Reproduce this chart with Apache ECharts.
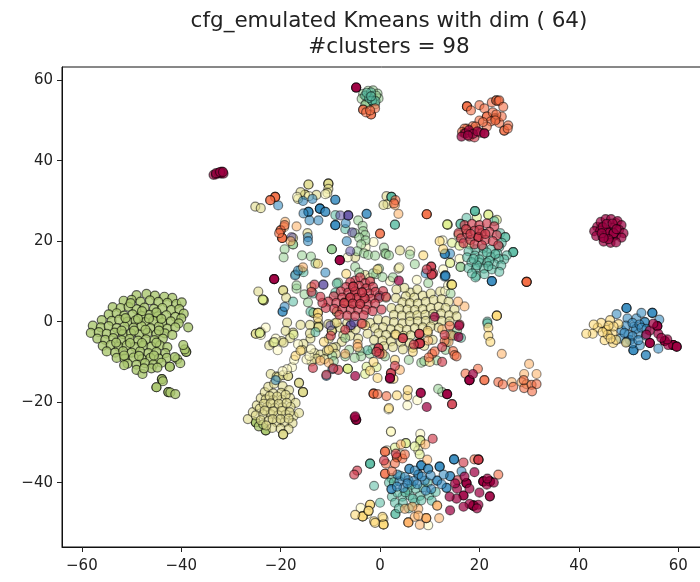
<!DOCTYPE html>
<html><head><meta charset="utf-8">
<style>html,body{margin:0;padding:0;background:#fff;overflow:hidden}#c{width:700px;height:582px;filter:blur(0.55px)}</style>
<script src="https://cdn.jsdelivr.net/npm/echarts@6/dist/echarts.min.js"></script></head>
<body><div id="c"></div>
<script>
const titleText = "cfg_emulated Kmeans with dim ( 64)\n#clusters = 98";
const xTicks = [-60,-40,-20,0,20,40,60];
const yTicks = [-40,-20,0,20,40,60];

const olive = [
[-49,6.6],[-47,6.9],[-45.3,6.5],[-43.4,6.2],[-41.8,5.9],[-51.6,5.2],[-50,5.4],[-48.2,5],[-46.3,5.3],[-44.6,4.9],[-42.8,4.7],[-41,4.4],[-39.9,4.8],
[-53.8,3.6],[-52.2,3.4],[-50.6,3.7],[-49,3.1],[-47.4,3.5],[-45.5,3.2],[-43.8,3.4],[-42,2.9],[-40.4,3.1],[-39.5,2],
[-54.6,1.8],[-53,2.1],[-51.5,1.5],[-49.8,1.8],[-48,1.4],[-46.4,1.7],[-44.7,1.3],[-43,1.6],[-41.2,1.2],[-40,.8],
[-56,.4],[-54,.2],[-52.5,.5],[-50.8,0],[-49.2,.3],[-47.3,-.1],[-45.6,.2],[-43.8,-.2],[-42.1,.1],[-40.5,-.4],
[-57.8,-1],[-56.2,-1.4],[-54.6,-1.1],[-53,-1.6],[-51.4,-1.2],[-49.6,-1.5],[-48,-1.1],[-46.2,-1.6],[-44.5,-1.2],[-42.8,-1.7],[-41.2,-1.4],
[-58.2,-2.8],[-56.6,-2.6],[-55,-3],[-53.4,-2.7],[-51.7,-3.1],[-50.1,-2.9],[-48.4,-3.2],[-46.8,-2.8],[-45,-3.1],[-43.3,-2.9],[-41.8,-3.3],
[-56.9,-4.2],[-55.3,-4.5],[-53.7,-4.1],[-52,-4.6],[-50.4,-4.3],[-48.7,-4.7],[-47.1,-4.4],[-45.4,-4.6],[-43.7,-4.2],
[-55.8,-6],[-54.2,-5.8],[-52.6,-6.2],[-51,-5.9],[-49.3,-6.3],[-47.6,-5.9],[-46,-6.2],[-44.3,-5.9],[-42.8,-6.3],
[-55,-7.4],[-53.3,-7.7],[-51.7,-7.3],[-50,-7.7],[-48.3,-7.4],[-46.6,-7.8],[-45,-7.5],[-43.2,-7.8],
[-53,-9],[-51.4,-9.2],[-49.6,-8.9],[-47.9,-9.3],[-46.2,-9],[-44.5,-9.2],[-42.9,-9],
[-50.8,-10.4],[-49,-10.7],[-47.3,-10.3],[-45.6,-10.6],[-44,-10.2],[-51.5,-10.8],
[-49,-12],[-46,-11.6],[-44.8,-11.4],[-47.8,-13],
[-38.6,-1.4],[-39,-7.5],[-39,-7.5],[-39.3,-6.9],[-40.8,-9.3],[-42.3,-11.2],[-42.3,-11.2],[-40.2,-10.3],[-41.3,-8.8],[-43.9,-14.3],[-43.9,-14.3],[-43.7,-14.8],[-45,-16.3],[-45,-16.3],[-42.6,-17.5],[-42.6,-17.5],[-42.2,-17.6],[-41.2,-18],[-39.6,-5.8],
[-25,-25],[-25,-25],[-23,-27],[-23,-27],[-24.4,-26],[-23.5,-25.5],
[-50.2,4.6],[-47.9,2.6],[-45,2.3],[-51.2,.9],[-48.7,.7],[-46.5,.8],[-44,.7],[-52,-2.2],[-49.5,-2.2],[-47.2,-2],[-44.5,-2.2],[-53.1,-5.2],[-50.3,-5.3],[-47.9,-5.3],[-45,-5.2],[-51.5,-8.4],[-48.5,-8.5],[-45.5,-8.4],[-47.5,-11.6]
];
const khaki = [
[-26.6,-24.2],[-25.6,-22.5],[-24.8,-20.8],[-24,-19],[-23.2,-17.5],[-22.5,-16.2],[-21.3,-15.4],[-19.6,-16],[-18.3,-17],[-19.9,-17.7],[-21.5,-17.8],[-23,-19.3],[-21.5,-19.5],[-19.8,-19.4],[-18.1,-19],[-17,-20.2],
[-24.2,-21.6],[-22.7,-21.2],[-21.2,-21.4],[-19.6,-21.3],[-18,-21.2],[-25,-23.3],[-23.5,-23],[-22,-23],[-20.5,-23.3],[-19,-23.1],[-17.4,-23.5],[-24,-24.5],[-22.4,-24.6],[-20.8,-25],[-19.2,-25],[-17.6,-25.2],[-21.7,-26.4],[-20,-26.6],[-22.9,-25.8],[-18.4,-26.7],
[-22.2,-18.5],[-20.7,-18.6],[-19,-18.2],[-23.4,-20.4],[-22,-20.3],[-20.4,-20.4],[-18.8,-20.2],[-23.2,-22.1],[-21.5,-22.3],[-19.8,-22.2],[-18.2,-22.5],[-21.6,-24.2],[-20,-24.2],[-18.4,-24.1],
[-22,-13],[-20.8,-13.6],[-20.5,-13.8],[-19.5,-13.3],[-18.5,-13.5],[-18.5,-13.5],[-16.3,-15.2],[-16.3,-15.2],[-15.5,-17.5],[-15.5,-17.5],[-15.5,-17.5],[-16.3,-22.7],[-19.5,-28],[-19.5,-28],[-19.5,-28],
[-19.5,7.8],[-19.5,7.8],[-13.4,2.2],[-13.4,2.2],[-12.4,-.3],[-18.9,6],[-10.4,-.6],[-8.7,2.5],[-8.7,2.5],[-12.4,-1.2],[-12.4,-1.2],[-12.4,-1.4],[-9.7,-2.3],[-9.7,-2.3],[-9.7,-2.2],[-8,-1.5],[-7.4,-3.4],[-7.7,-5],[-6,-3.5],[-5.9,-1.4],[-6.6,-.3],[-4.9,-1.9],[-4.4,-4.2],[-8.9,-6.3],[-10.3,-4.2],
[-17.5,-2.7],[-18.7,-.2],[-19,-2.3],[-16,-.8],[-19.8,-4.8],[-18.1,-4.1],[-14.1,-.8],[-14,-4.2],[-14.1,-2.9],[-15.4,-5.5],[-15.7,-7],[-13.2,-7.8],[-12,-8.2],[-10.7,-7.3],[-9.5,-6.5],[-12.8,-9.2],[-11.2,-9.3],[-8.9,-8],[-13.8,-9.9],
[-24.5,7.5],[-23.4,5.3],[-23.4,5.3],[-25,-3],[-25,-3],[-24,-2.5],[-22.3,-5.9],[-21.5,-5.2],[-19.4,-5.2],[-25.1,28.6],[-24,28.2],
[-14.4,34.1],[-14.4,34.1],[-10.4,34.3],[-10.4,34.3],[-10.4,34.3],[-10.4,33],[-10.6,32],[-15.1,31.6],[-15.1,31.6],[-16,32.2],[-16.5,30.5],[-12.8,31.5],
[1.3,31.2],[1.5,29.2],[0.7,29],[-17.5,20.8],[-14.6,22],[-5,16],[4,17.7],[1.2,6],[3.7,13.2],[-3,11.6],
[6.1,7.2],[7.5,8],[4.9,8.4],[3.3,8],[5.2,6.3],[6.9,6],[8.6,6.5],[10.2,7],[12.1,7.5],[3.2,5.9],[4.5,4.8],[6,4.6],[7.6,4.5],[9.2,4.9],[10.8,5.4],[12.4,5.6],[13.8,5],[2.3,3.4],[3.9,3.2],[5.5,3],[7,2.9],[8.6,3.1],[10.2,3.4],[11.8,3.7],[13.2,3.4],[15,3],[2.8,1.7],[4.4,1.5],[6,1.4],[7.5,1.6],[9.1,1.7],[10.7,1.9],[12.3,2],[13.9,1.6],[15.4,1.3],
[-2,-.3],[-.4,.6],[1.2,.2],[2.8,-.1],[4.5,-.4],[6,0],[7.6,.1],[9.2,.2],[10.8,.4],[12.4,.2],[14,.1],[-1,-1.6],[.6,-1.4],[2.2,-1.9],[3.8,-1.7],[5.4,-2],[7,-1.6],[8.6,-1.4],[10.2,-1.2],[11.8,-1.5],[-.3,-2.9],[1.2,-3.3],[3,-3.2],[4.7,-3.5],[6.2,-3.4],[8,-3.1],[9.6,-2.8],[-2.5,-3],[-1.2,-4.5],[.5,-4.7],[2.2,-4.9],[4.2,-5.1],[6,-5.3],[8,-4.8],[.8,-6.1],[2.6,-6.3],[4.6,-6.9],[6.6,-6.5],[8.9,-6],[10.6,-4.5]
];
const pale = [
[-17.7,-11.3],[-18.7,-11.8],[-19.6,-12.3],[-14.8,-9.4],[-14.2,-8.5],[-13.9,-6.8],[-16.5,-5.6],[-20.6,-7.1],[-23,-1.5],[-24,-3.3],[-21,-4.2],[-17.3,-9.5],
[-14.3,31.2],[-11,31.7],[-16.7,31],[-2.9,18.5],[-1.3,19.8],[-6.5,16],[6.1,17.6],[12.6,20.2],[16,15.6],[12.7,13],[3.9,13.5],[2,10.1],[-2,10.9],[13.1,7.6],[13.7,9],[14.1,14.6],[7.4,10.4],
[1.7,-21.8],[5.5,-20.8],[7.5,-19.5],[2.2,-27.3],[2.2,-27.3],[8.1,-27.9],[8.1,-30.5],[4.2,-33],[7.7,-32],[1.4,-32],[.7,-49],[-2.6,-47.8],[-3.9,-46.3],[9.7,-50.6]
];
const lime = [
[14.4,9.2],[14.4,9.2],[14.4,9.2],[13.6,24.1],[13.6,24.1],[14.1,14.6],[13.5,24.2],[-23.6,5.5],[-23.6,5.5],[-24.2,-2.8],[-24.2,-2.8],[-21.3,-5.1],[-17.4,-3.2],[-6.5,-11.7],[-6.5,-11.7],[-6.5,-11.7],[-2.7,-11.2],[-.7,-11.3],[-3,-13],
[21.8,26.6],[21.8,26.6],[23.5,25.3],[19.5,26],[17.5,22.8],[15.8,21.6],[14.5,19.6],[16,18.9],[18,19.2],[5.2,-30.2],[5.2,-30.2],[8.1,-29.5],[8.1,-29.5],[7,-31],[8,-33],[3,-31.3]
];
const green = [
[-3.4,56.6],[-2.4,57.4],[-1.4,57.5],[-.5,56.7],[-.3,55.5],[-1.2,55.2],[-2.6,55.8],[-3.7,55.4],[-2,54.4],[-1,54],[-2.8,54.2],[-3,53.8],[-1.8,56],[-1.8,56],[-.8,56.2],
[-9.7,18],[-9.7,18],[-9.7,18],[-17.5,19.2],[-17.5,19.2],[-19.2,18],[-19.4,16],[-15.7,16.5],[-13.9,16.2],[-13,14.5],[-16,12.8],[-17,11.7],[-16.8,8.2],[-16.8,9],[-8.4,9.7],
[-4.4,25.2],[-3.5,23.8],[-3.4,22.5],[-3,21.5],[-5.1,22],[-4.2,20.9],[-2.9,20.2],[-3.8,19.2],[-4.6,17.5],[-3.2,17],[-2.4,16.6],[-1,16.4],[.8,18.4],[1,17],[1.2,16.8],[1.8,16.5],[-.2,13.2],[-5,13.6],[-4.2,12.2],[-.8,11.8],[2.6,11],[-1.4,12],[.5,11.1],[6,16.7],[7,14.3],[9.7,9.6],
[-14.5,4.8],[-15.2,6.8],[-9.1,-.4],[-6.2,-7],[-4,-7.3],[-2,-8],[-1.5,-6.8],[1,-8.6],[-3.8,-8.6],[-9.6,-8.5],[5.8,-9.5],[11.4,-9.6],[13.2,-7],[14.2,-3.1],[15.5,-2.2],[14.2,7],
[8.3,-10.2],[8.9,-9.8],[-5.1,-9],[-7,-8.6],[12.5,-17.5],[11.7,-16.7],[16.2,13.6],[16.2,13.6],[-7,-4],[-9.3,-9.8]
];
const teal = [
[-1.6,55],[-1.6,55],[-3,56.2],[-2.2,55.6],[-.9,54.8],[-1.8,57],[-2.7,56.9],[-1.8,56],
[2.3,31],[2.3,31],[2.3,31],[3,24.1],[3,24.1],[-15.4,12.3],[-13.5,7],[-17.5,5],[-14,2.5],[-8.7,9.5],[-9,7.2],
[19.1,27.5],[19.1,27.5],[19.1,27.5],[17.4,25.8],[16.2,24.3],[16.2,24.3],[23,25],[24.2,22],[25.2,21],[25.2,21],[24.5,19.6],[26.8,17.3],[26.8,17.3],[26.8,17.3],[24,18.6],[25.5,16.5],[25,15.5],[23.6,17],[22.3,18],[20.8,18.2],[19.2,18],[17.8,17.5],[17.5,16],[19.1,16.4],[20.7,16.6],[22.3,16.1],[23.9,15.6],[18.4,14.8],[20,14.7],[21.5,14.7],[23,14.3],[24.4,14],[17.8,13.3],[19.3,13.2],[20.9,13.2],[22.5,13],[24,12.4],[19.4,11.4],[19.2,11],[18.5,12],[21,11.8],
[20,15.5],[22,15.2],[19.5,14],[21.8,13.8],[18.8,15.6],[23.2,16.8],[21.5,17.2],
[21.6,0],[21.6,-.4],[14.9,-3.5],[13.4,-5],[16.3,-4],[-13,-2.6],[-2.5,-7.1],
[-2,-35.3],[-2,-35.3],[-2,-35.3],[-1.2,-40.8],[0,-45],[3.1,-47.8],[3.1,-47.8],[2.4,-43.5],[3,-45],[4.5,-43.5],[6,-43.2],[8,-43.3],[9.9,-43.2],[2.3,-38.9],[1.8,-40],[4.6,-45],[7,-45],[5.6,-41.8],[7.2,-41.5],[8.7,-41.2],[-9,26.5],[-7,23],
[3.5,-42.5],[5.1,-42.4],[6.6,-44],[8.3,-44.4],[10.4,-44.5],[3.8,-46.4],[5.8,-46.4],[2.8,-39.9],[4.1,-38.3],[6.3,-40.5],[9.6,-40],[11.2,-42.3]
];
const blue = [
[-14.4,27.3],[-14.4,27.3],[-14.4,27.3],[-12.1,28.1],[-12.1,28.1],[-12.1,28.1],[-12.1,28.1],[-11,27.3],[-11,27.3],[-15.4,26.9],[-12.4,25.2],[-14.2,25.2],[-9,30.3],[-9,30.3],[-20.5,28.9],[-13.6,30.5],[-15.5,30],
[-9,24],[-9,24],[-9,24],[-6.7,20],[-6.9,24.5],[-2.7,26.8],[-2.7,26.8],[-14.5,21],[-14.5,20],[-11,12.2],[-17.1,11.5],[-16.5,12.7],[-.1,6.4],[-.1,6.4],[-19.6,2.5],[-19.6,2.5],[-19.2,3.7],[-21,-14.5],[-9.6,-11.8],
[13.1,16.9],[13.1,16.9],[14.1,16.9],[13.1,11.5],[13.1,11.5],[13,16.8],[22.5,10.1],[22.5,10.1],[22.5,10.1],[13,11.2],[9.2,12],[13.2,11.4],[-10.8,-13.5],
[49.6,3.4],[49.6,3.4],[49.6,3.4],[47.6,1.9],[49.8,.8],[51.6,.8],[52.6,2.2],[54.8,2.2],[54.8,2.2],[54.8,2.2],[53.3,-.1],[53.3,-.1],[48.6,-2.1],[51,-1.3],[52,-3],[48.3,-4.2],[51,-7.1],[51,-7.1],[51,-7.1],[53.5,-8.3],[53.5,-8.3],[56,-6.7],[52.3,-5.9],[50,-3.2],[50.3,-4.6],[51.5,-1.8],[53.5,-3.5],[56.2,.5],
[49.5,-1],[50.8,-.3],[52.2,-.7],[49.2,-2.8],[50.8,-3.6],[52.6,-1.5],[53.6,-1.8],[50.8,-5.4],[52,-4.6],[49.6,-5],
[8.3,-35.7],[8.3,-35.7],[8.3,-35.7],[12,-36],[12,-36],[12,-36],[5.9,-36.6],[5.9,-36.6],[9.7,-36.6],[9.7,-36.6],[7.7,-38],[7.7,-38],[3.9,-39.7],[5.7,-39.4],[2.3,-41.6],[2.3,-41.6],[4.7,-41.3],[11.5,-39.5],[11.5,-39.5],[10.3,-41.6],[13.4,-41.3],[13.4,-41.3],[14.9,-34.2],[14.9,-34.2],[14.9,-34.2],[14.1,-38.4],[14.1,-38.4],[16.4,-37.2],[9,-39.5],[12.8,-38],
[3.5,-38],[5,-38.6],[7,-37],[6.8,-39.6],[8.4,-38.5],[10.2,-38.2],[3.4,-41],[5.5,-40.2],[7.5,-40.4],[9.2,-42],[12.4,-40.4]
];
const purple = [
[-6.4,26.4],[-6.4,26.4],[-6.4,26.4],[-8,26.4],[-5.6,22.2],[-6,17.5],[-17.8,21],[-11.4,9.2],[-11.4,9.2],[-5.9,-.9],[-5.9,-.9],[-5.2,-.2],[-10,-1]
];
const yellow = [
[-12.5,2.2],[-12.5,2.2],[-12.5,.9],[-6.5,5],[-7,5],[-12.5,14.4],[-6.8,11.9],[-13.8,8.6],[-11.3,-5],[-10.3,-7],[12,20],[12.7,18],[8.7,16.5],
[23.5,1.5],[23.5,1.5],[23.5,1.5],[21.8,-1.5],[21.8,-3.5],[22.2,-5],[14.5,9.2],[-.5,13],[-3,-.9],[3.2,-3.2],[-8.7,-.2],[-.1,-7.4],[9.6,-2.3],[10,-10],
[-17,-8.5],[-16,-7.2],[-1.3,-10],[3,-9.5],[6.6,-7.5],[-2,-12.2],[-.5,-14],[2.7,-14.2],[3.4,-18.3],[5.5,-18.5],[5.6,-17],[1.8,-21.5],
[-3.5,-48.4],[-3.5,-48.4],[-3.5,-48.4],[-2,-45.5],[-2,-45.5],[-2.3,-47],[-2.3,-47],[.7,-50.4],[.7,-50.4],[.7,-50.4],[-1.2,-49.6],[.5,-48.5],[-1,-50],[-5,-48],
[45.6,-2],[45.6,-2],[46.3,.4],[46.9,-5.3],[45.2,-4.6],[43.8,-1.5],[46.8,-3],[48,-.6],[44.5,-.3],[47.5,-4.5],[49.5,-5.2],[42.8,-3],[43,-.7],[45.8,-3.2],[47,-1.2],[46,-1],[44.8,-2.6],[46.4,-4.2],[41.5,-3]
];
const lightOrange = [
[-16.8,23.7],[3.7,26.8],[3,29],[-19.1,24.8],[-19.3,23.5],[-18,20],[-15.5,13.5],[17,3.8],[15.7,5],[12.5,-1.9],[24.5,-8],[30,-10.5],[29,-13],[26.5,-15],[28.5,-15],[29.5,-15.5],[31.5,-13],
[9.5,-34.3],[9.1,-30.5],[4.2,-30.5],[5.7,-49.9],[5.7,-49.9],[5.7,-49.9],[7,-48.5],[9.3,-48.8],[9.3,-48.8],[9.3,-48.8],[5,-46.5],[7.7,-46.5],[8,-50.5],[11.5,-45.7],[11.5,-45.7],[6.5,-46],[7.7,-48.2],[11.9,-48.8],[-12,-9.7],[13.8,-5],[14.4,-3.4],[9.7,-4.7],[-3.5,-.5],[-4.5,-5.5],[.5,-8],[-10.3,-10.2],[-7,-8],[-4.5,-6.3],[4,-12]
];
const orange = [
[-21.1,31],[-21.1,31],[-21.1,31],[-22.1,30.2],[-22.1,30.2],[-20,22.7],[-20,22.7],[-19.7,20.8],[-19.7,20.8],[-19.7,20.8],[-20.3,22],[-19.2,24],[0,21.9],[0,21.9],[9.4,26.7],[9.4,26.7],[9.4,26.7],[3.1,30.2],[2.8,29.4],
[17.5,53.5],[17.5,53.5],[17.5,53.5],[18.3,52.5],[20,53.8],[21,53],[22.5,54.5],[23.4,55],[23.4,55],[23.8,54.8],[24,55],[21.5,51],[21.5,51],[22.7,52],[23.2,50.6],[23.4,50.3],[22.3,49.8],[24,49.4],[24.5,51],[25,47.5],[25,47.5],[25.8,48.8],[25.7,48],[19,47.8],[17.5,48],[18.7,48.6],[18.2,47],[17,48],[16.5,47.2],[20,50],[21.5,48.5],[23.4,51.5],[23.2,50],[20.7,49.6],[19.2,48.5],[24.8,53.4],
[-3.4,52.7],[-3.4,52.7],[-1.8,51.5],[-1.8,51.5],[-2.8,52],[-1,53],[-2,52.5],
[29.5,9.9],[29.5,9.9],[29.5,9.9],[29.5,9.9],[1,-32.3],[1,-32.3],[1.2,-35.3],[1,-37.8],[1,-37.8],[3.4,-33.7],[3.4,-33.7],[4.5,-34],[5,-33],[2.4,-37.2],[3,-35.2],
[19.8,-34.3],[19.8,-34.3],[19,-34.2],[10.5,-8],[11,-7.4],[9.8,-8.9],[14.7,-7.3],[15,-8.3],[15.4,-8.6],[23.8,-15],[21,-14.5],[21,-14.5],[24.7,-15.6],[26.8,-16.2],[29,-16.5],[30.5,-15.7],[31.5,-15.5],[30.6,-17.3],[28.9,-14.5],
[-1.3,-17.9],[-1.3,-17.9],[-1.3,-17.9],[-.5,-18],[1.3,-18.5],[23.8,-38],[17.2,-12.9],[19.7,-11.7],[14,-1],[13,-4.8]
];
const red = [
[-5,10.2],[-4,11],[-6,9.8],[-3,9.6],[-2,10],[-6.8,8.6],[-5.4,8.7],[-4.2,8.9],[-2.8,8.3],[-1.4,8.6],[-7.9,7.5],[-6.4,7.2],[-5,7.5],[-3.6,7.3],[-2.2,7],[-.9,7.4],[.6,7.6],[-9.3,6.3],[-7.6,6],[-6,6],[-4.6,5.9],[-3.1,5.8],[-1.7,5.7],[-.2,5.9],[1.2,6.2],[-10.4,5],[-8.8,4.7],[-7.2,4.6],[-5.5,4.5],[-4,4.4],[-2.5,4.3],[-1,4.5],[-10.9,3.4],[-9.2,3.2],[-7.6,3.1],[-5.9,3],[-4.4,3],[-2.8,2.9],[-11.6,4.7],[-8.2,1.7],[-6.6,1.5],[-5,1.4],[-3.3,1.6],[-1.5,2.6],[.3,3],
[-5,7.5],[-4.6,5.9],[-3.1,5.8],[-6,6],[-5.5,4.5],[-4,4.4],[-3.6,7.3],[-5.4,8.7],[-7.2,4.6],
[10.3,13.7],[10.3,13.7],[10.7,12],[10.4,11.7],[10.4,11.7],[9.4,13],
[4.6,-4.1],[4.6,-4.1],[7.9,-3],[7.9,-3],[8,-5.3],[7.7,-5.5],[8,-5.4],[8,-5.4],[8,-5.4],[6.8,-5.7],[-.3,-6.6],[-.3,-6.6],[-.1,-8],[-.7,-7.5],
[-13.2,9.2],[-13.8,7.4],[-12,6.2],[-9.9,-3.5],[-7,-2],[-3.7,-.5],
[17,46.8],[18,46],[19,45.8],[20.2,47],
[15.8,22],[17,24],[18.5,24.3],[20,24],[21.5,24.4],[23,23.7],[16.3,20.7],[17.6,21.8],[19,22.6],[20.5,22],[22,22.3],[23.5,21.5],[16.8,19.5],[18.2,20.3],[19.8,21],[19.8,21],[19.8,21],[21.2,20.3],[22.7,20],[23.8,19],[19,19.2],[20.5,19],[17.3,23],[20,22.8],[18.2,21.8],[21.2,21.8],
[14.5,-20.5],[14.5,-20.5],[-13.5,-11.5],[2.2,-12.8],[2.2,-12.8],[2,-14.2],[3,-11],[-8.4,-12],[16,-.7],[13,-3.3],[18,-14.5],[19.8,-34.3],[19.8,-34.3],[10.6,-29.1],[3.2,-32.8],[-4.6,-37],[-5.2,-38],
[15.6,-39.4],[16.8,-35],[.8,-34.5],[44.5,23.5],[47.5,24.5],[46.8,21],[12.5,-6.3],[12.5,-10],[-10.8,-13.2],[-9.4,-11.6]
];
const crimson = [
[-8.1,15.3],[-8.1,15.3],[-8.1,15.3],[-21.3,10.6],[-21.3,10.6],[-21.3,10.6],[-4.8,58.2],[-4.8,58.2],[-4.8,58.2],[-4.8,-24.4],[-4.8,-24.4],[-4.8,-24.4],[-5.1,-23.8],[-5,-23.5],
[-33.5,36.5],[-33,36.6],[-32.5,37],[-32,37],[-32,36.8],[-31.8,37.3],[-31.5,36.8],[-33,36.9],[-32.2,37.2],[-31.6,37.2],
[17.2,46.8],[17.9,47.6],[18.7,46.7],[16.4,46],[17.7,46.3],[19.6,47.3],[21,46.8],[21,46.8],
[43.7,23.6],[44.4,24.8],[45.4,25.5],[46.5,25.5],[47.8,25],[48.6,24],[43.1,22.5],[44.3,22.6],[45.6,23],[46.8,23.3],[48.1,22.8],[49,22],[43.5,21.3],[44.8,21.1],[46.2,21.2],[47.5,21.5],[48.6,20.9],[45,19.9],[46.4,19.6],[47.5,19.7],[45.8,22.2],[45.8,22.2],[47,22],[47,22],[44.8,23.5],[45.6,24.3],[46.8,24.4],[44.6,22],[46,20.5],[47.6,23],[45,20.8],
[55.8,-1.1],[55.8,-1.1],[55.8,-1.1],[54.3,-5.3],[54.3,-5.3],[54.3,-5.3],[57.3,-4.8],[57.3,-4.8],[57.3,-4.8],[59,-5.8],[59,-5.8],[59,-5.8],[59,-5.8],[59.7,-6.2],[59.7,-6.2],[59.7,-6.2],[54.3,-2.2],[56,-3],[55,-.5],[58,-5.8],[53.6,-3.2],[57.8,-4.4],[56.6,-4],
[18,-14.5],[18,-14.5],[18,-14.5],[13.5,-18],[13.5,-18],[13.5,-18],[2,-14],[2,-14],[3.8,10.2],[-5,-13.5],[11,1.2],[18.7,-13],[15.9,-1],
[17.4,-40.1],[17.4,-40.1],[17.4,-40.1],[16.8,-43.2],[16.8,-43.2],[15.4,-44],[18.8,-45.7],[18.8,-45.7],[18.8,-45.7],[18.8,-45.7],[18.8,-45.7],[19.8,-45.5],[18,-45.3],[19.5,-46.4],[20.8,-39.7],[20.8,-39.7],[20.8,-39.7],[20.8,-39.7],[22.1,-39.7],[22.1,-39.7],[22.1,-39.7],[22.1,-39.7],[21.5,-40.5],[22.9,-40],[21.6,-39],[22.1,-43.4],[22.1,-43.4],[14.1,-46.9],[16.8,-46],[14,-43.5],[15.5,-41.5],[17,-38.5],[19,-37.4],[15.1,-40.2],[20,-42.5],[18,-41.5],
[15.8,-3.8],[9.4,-21.2],[8.2,-17.7],[8.2,-17.7]
];

const groups = [
  [olive, '#aac76e', 0.8, 0.6], [khaki, '#e0da8a', 0.6, 0.5], [pale, '#fdf9c0', 0.55, 0.42], [lime, '#dff08f', 0.6, 0.5], [green, '#96d092', 0.55, 0.45],
  [teal, '#55baa0', 0.55, 0.45], [blue, '#3288bd', 0.58, 0.48], [purple, '#5e4fa2', 0.55, 0.45], [yellow, '#fdda78', 0.6, 0.5],
  [lightOrange, '#fdae61', 0.55, 0.42], [orange, '#f46d43', 0.6, 0.5], [red, '#cf3a4c', 0.65, 0.55], [crimson, '#9e0142', 0.72, 0.55]
];

const chart = echarts.init(document.getElementById('c'), null, {renderer:'canvas'});
const minusFmt = v => String(v).replace('-', '\u2212');
const textColor = '#222';
chart.setOption({
  animation:false,
  backgroundColor:'#fff',
  title:{text:titleText,left:384,top:3,textAlign:'center',
    textStyle:{fontFamily:'DejaVu Sans',fontSize:21.5,fontWeight:'normal',color:'#222',lineHeight:26}},
  grid:{left:62,top:67,width:644,height:480,outerBoundsMode:'none',containLabel:false,show:true,borderColor:'#111',borderWidth:1,backgroundColor:'#fff'},
  xAxis:{type:'value',min:-64,max:65.6,splitLine:{show:false},
    axisLine:{onZero:false,lineStyle:{color:'#111'}},
    axisTick:{length:5,lineStyle:{color:'#222'},customValues:xTicks},
    axisLabel:{customValues:xTicks,formatter:minusFmt,fontFamily:'DejaVu Sans',fontSize:15,color:textColor,margin:12}},
  yAxis:{type:'value',min:-56,max:63.3,splitLine:{show:false},
    axisLine:{onZero:false,lineStyle:{color:'#111'}},
    axisTick:{length:5,lineStyle:{color:'#222'},customValues:yTicks},
    axisLabel:{customValues:yTicks,formatter:minusFmt,fontFamily:'DejaVu Sans',fontSize:15,color:textColor,margin:9}},
  series:groups.map(([d,c,a,b])=>({
    type:'scatter',data:d,symbolSize:9,large:false,clip:true,
    itemStyle:{color:echarts.color.modifyAlpha(c,a),opacity:1,borderColor:'rgba(0,0,0,'+b+')',borderWidth:1.2}
  }))
});
</script></body></html>
